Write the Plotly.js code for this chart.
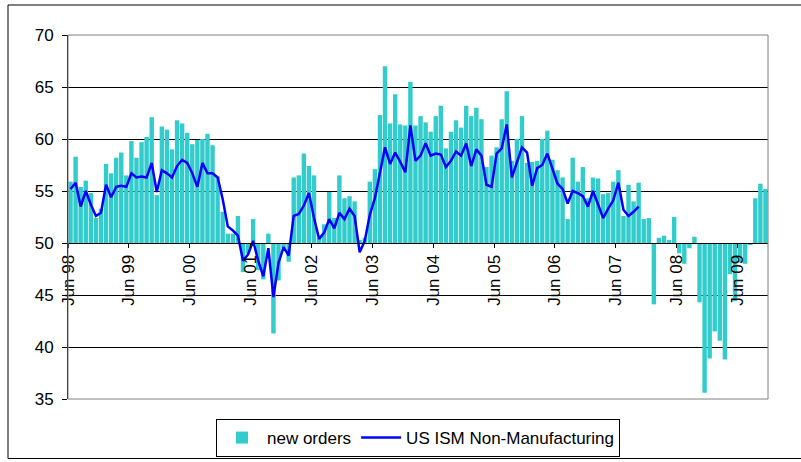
<!DOCTYPE html>
<html>
<head>
<meta charset="utf-8">
<script src="https://cdn.plot.ly/plotly-3.0.1.min.js"></script>
<style>
  html, body { margin: 0; padding: 0; background: #ffffff; }
  #chart { width: 801px; height: 462px; }
</style>
</head>
<body>
<div id="chart"></div>
<script>
// Monthly series, Jun 98 .. Nov 09 (index 0 = Jun 98)
const newOrders = [
  55.9, 58.3, 55.4, 56.0, 54.8, 52.4, 53.3, 57.6, 56.7, 58.2, 58.7, 56.5,   // Jun98-May99
  59.8, 58.2, 59.7, 60.2, 62.1, 54.6, 61.2, 60.9, 59.0, 61.8, 61.5, 60.6,   // Jun99-May00
  59.5, 59.9, 60.0, 60.5, 59.4, 56.4, 53.0, 50.9, 50.9, 52.6, 47.2, 49.0,   // Jun00-May01
  52.3, 47.4, 46.5, 50.9, 41.3, 46.4, 49.5, 48.2, 56.3, 56.5, 58.6, 57.4,   // Jun01-May02
  56.5, 50.5, 51.8, 54.9, 52.4, 56.5, 54.3, 54.5, 54.0, 50.3, 50.5, 55.9,   // Jun02-May03
  57.1, 62.3, 67.0, 61.5, 64.3, 61.4, 61.3, 65.5, 61.3, 62.2, 61.6, 60.7,   // Jun03-May04
  62.2, 63.2, 59.1, 60.7, 61.8, 61.1, 63.2, 62.2, 63.0, 61.9, 57.3, 58.4,   // Jun04-May05
  59.2, 61.9, 64.6, 57.9, 60.0, 62.2, 57.7, 57.8, 57.9, 60.0, 60.8, 58.0,   // Jun05-May06
  57.0, 56.3, 52.3, 58.2, 55.9, 57.3, 54.3, 56.3, 56.2, 54.7, 54.8, 55.9,   // Jun06-May07
  57.0, 52.6, 55.6, 54.0, 55.8, 52.3, 52.4, 44.1, 50.5, 50.7, 50.3, 52.5,   // Jun07-May08
  49.0, 48.0, 49.5, 50.6, 44.3, 35.6, 38.9, 41.5, 40.6, 38.8, 47.0, 44.4,   // Jun08-May09
  48.1, 48.0, 49.8, 54.3, 55.7, 55.2                                        // Jun09-Nov09
];
const ismNonMfg = [
  55.2, 55.8, 53.5, 55.0, 53.7, 52.6, 52.9, 55.6, 54.4, 55.4, 55.5, 55.4,
  56.7, 56.3, 56.4, 56.3, 57.7, 54.9, 57.0, 56.7, 56.3, 57.4, 58.0, 57.7,
  56.7, 55.4, 57.7, 56.7, 56.7, 56.3, 54.2, 51.6, 51.2, 50.7, 48.3, 48.9,
  50.2, 48.3, 46.8, 49.5, 44.8, 48.1, 49.6, 48.8, 52.6, 52.8, 53.6, 54.8,
  52.4, 50.4, 51.0, 52.3, 51.4, 52.9, 52.3, 53.3, 52.6, 49.1, 50.2, 52.7,
  54.3, 56.7, 59.2, 57.6, 58.7, 57.8, 56.8, 61.3, 57.9, 58.4, 59.6, 58.4,
  58.6, 58.5, 57.3, 57.9, 58.8, 58.4, 59.6, 57.4, 59.0, 58.4, 55.6, 55.4,
  58.6, 59.1, 61.4, 56.3, 57.7, 59.2, 58.7, 55.5, 57.2, 57.5, 58.6, 57.1,
  55.7, 55.2, 53.8, 55.0, 54.8, 54.5, 53.5, 55.0, 53.7, 52.4, 53.3, 54.1,
  55.8, 53.2, 52.6, 53.0, 53.5
];
const tickLabels = ["Jun 98","Jun 99","Jun 00","Jun 01","Jun 02","Jun 03",
                    "Jun 04","Jun 05","Jun 06","Jun 07","Jun 08","Jun 09"];
const yTicks = [35, 40, 45, 50, 55, 60, 65, 70];

const baseLevel = 50;
const xBars = newOrders.map((_, i) => i);
const xLine = ismNonMfg.map((_, i) => i);
const tickVals = tickLabels.map((_, k) => k * 12 - 0.5);

const traces = [
  {
    type: 'bar',
    name: 'new orders',
    x: xBars,
    y: newOrders.map(v => v - baseLevel),
    base: baseLevel,
    marker: { color: '#33CCCC', line: { width: 0 } },
    hoverinfo: 'skip'
  },
  {
    type: 'scatter',
    mode: 'lines',
    name: 'US ISM Non-Manufacturing',
    x: xLine,
    y: ismNonMfg,
    line: { color: '#0000FF', width: 2.5 },
    hoverinfo: 'skip'
  }
];

const yMin = 35, yMax = 70;
const layout = {
  width: 801,
  height: 462,
  margin: { l: 68, r: 33, t: 35, b: 63, pad: 0 },
  paper_bgcolor: '#ffffff',
  plot_bgcolor: '#ffffff',
  font: { family: '"Liberation Sans", Arial, sans-serif', size: 17, color: '#000000' },
  bargap: 0.13,
  showlegend: true,
  legend: {
    orientation: 'h',
    x: 0.5, xanchor: 'center',
    yref: 'container',
    y: 0.093, yanchor: 'top',
    bordercolor: '#000000',
    borderwidth: 1,
    bgcolor: '#ffffff',
    font: { size: 17, color: '#000000' },
    itemwidth: 40,
    traceorder: 'normal'
  },
  xaxis: {
    range: [-0.5, newOrders.length - 0.5],
    anchor: 'free',
    position: (baseLevel - yMin) / (yMax - yMin),
    automargin: false,
    showline: true,
    linecolor: '#000000',
    linewidth: 1,
    ticks: 'outside',
    ticklen: 4,
    tickcolor: '#000000',
    tickmode: 'array',
    tickvals: tickVals,
    ticktext: tickLabels,
    tickangle: -90,
    tickfont: { size: 17, color: '#000000' },
    showgrid: false,
    zeroline: false,
    fixedrange: true
  },
  yaxis: {
    range: [yMin, yMax],
    automargin: false,
    tickmode: 'array',
    tickvals: yTicks,
    ticktext: yTicks.map(String),
    showgrid: true,
    gridcolor: '#000000',
    gridwidth: 1,
    showline: true,
    linecolor: '#000000',
    linewidth: 1,
    ticks: 'outside',
    ticklen: 5,
    ticklabelstandoff: 5,
    tickcolor: '#000000',
    tickfont: { size: 17, color: '#000000' },
    zeroline: false,
    fixedrange: true
  },
  shapes: [
    { type: 'rect', xref: 'paper', yref: 'paper', x0: 0, x1: 1, y0: 0, y1: 1,
      line: { color: '#808080', width: 1 }, layer: 'above' },
    { type: 'rect', xref: 'paper', yref: 'paper',
      x0: -0.0857, x1: 1.07, y0: -0.1635, y1: 1.0824,
      line: { color: '#000000', width: 1 }, layer: 'above' }
  ]
};

Plotly.newPlot('chart', traces, layout, { displayModeBar: false, staticPlot: true });
</script>
</body>
</html>
